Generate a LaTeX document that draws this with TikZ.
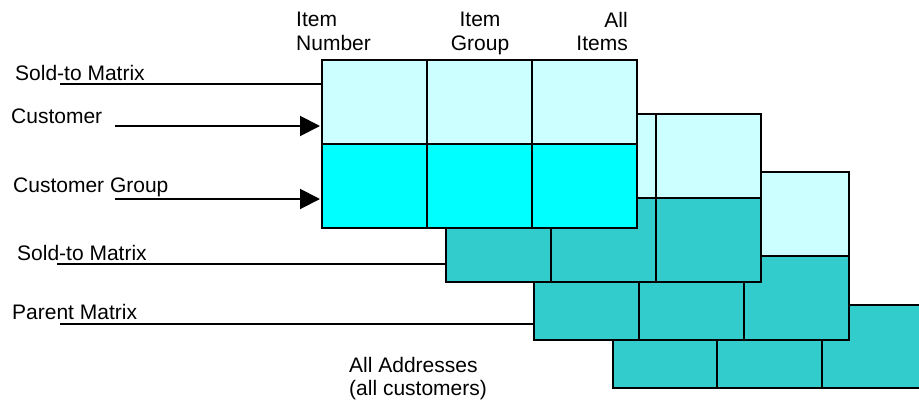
\documentclass[tikz,border=0pt]{standalone}
\usepackage{fontspec}
\setmainfont{Liberation Sans}
\usetikzlibrary{arrows.meta}

\definecolor{palecyan}{HTML}{CCFFFF}
\definecolor{brightcyan}{HTML}{00FFFF}
\definecolor{darkcyan}{HTML}{33CCCC}

\tikzset{
  cell/.style={draw=black, line width=2pt},
  feed/.style={line width=2pt},
  lbl/.style={inner sep=0pt, font=\fontsize{21}{23.5}\selectfont},
}

\begin{document}
\begin{tikzpicture}[x=1pt, y=-1pt]
  \useasboundingbox (0,0) rectangle (919,400);

  % Back layer (runs off the right edge)
  \fill[darkcyan] (613,305) rectangle (919,388);
  \draw[cell] (919,305) -- (613,305) -- (613,388) -- (919,388);
  \foreach \cx in {717,822}
    \draw[cell] (\cx,305) -- (\cx,388);

  % Layers, back to front
  \foreach \lx/\ly/\lc in {534/172/darkcyan, 446/114/darkcyan, 322/60/brightcyan} {
    \draw[cell, fill=palecyan] (\lx,\ly) rectangle ++(315,84);
    \draw[cell, fill=\lc] (\lx,\ly+84) rectangle ++(315,84);
    \foreach \k in {1,2}
      \draw[cell] (\lx+105*\k,\ly) -- ++(0,168);
  }
  \coordinate (front) at (322,60);
  \coordinate (mid) at (446,114);
  \coordinate (rear) at (534,172);

  % Column labels
  \node[lbl, anchor=north west, align=left] (itemnum) at (296,12) {Item\\Number};
  \node[lbl, anchor=north, align=center] (itemgrp) at (480,12) {Item\\Group};
  \node[lbl, anchor=north east, align=right] (allitems) at (628,12) {All\\Items};

  % Row labels
  \node[lbl, anchor=base west] (soldA) at (15,80) {Sold-to Matrix};
  \node[lbl, anchor=base west] (cust) at (11,123) {Customer};
  \node[lbl, anchor=base west] (custgrp) at (13,192) {Customer Group};
  \node[lbl, anchor=base west] (soldB) at (17,260) {Sold-to Matrix};
  \node[lbl, anchor=base west] (parent) at (12,319) {Parent Matrix};
  \node[lbl, anchor=north west, align=left] (alladdr) at (349,357) {All Addresses\\(all customers)};

  % Leaders
  \coordinate (soldA-in) at (60,84);
  \coordinate (cust-in) at (115,126);
  \coordinate (custgrp-in) at (115,199);
  \coordinate (soldB-in) at (57,264);
  \coordinate (parent-in) at (60,324);

  \draw[feed] (soldA-in) -- (soldA-in -| front);
  \draw[feed, -{Triangle[length=20pt, width=20pt]}, shorten >=2pt] (cust-in) -- (cust-in -| front);
  \draw[feed, -{Triangle[length=20pt, width=20pt]}, shorten >=2pt] (custgrp-in) -- (custgrp-in -| front);
  \draw[feed] (soldB-in) -- (soldB-in -| mid);
  \draw[feed] (parent-in) -- (parent-in -| rear);
\end{tikzpicture}
\end{document}
